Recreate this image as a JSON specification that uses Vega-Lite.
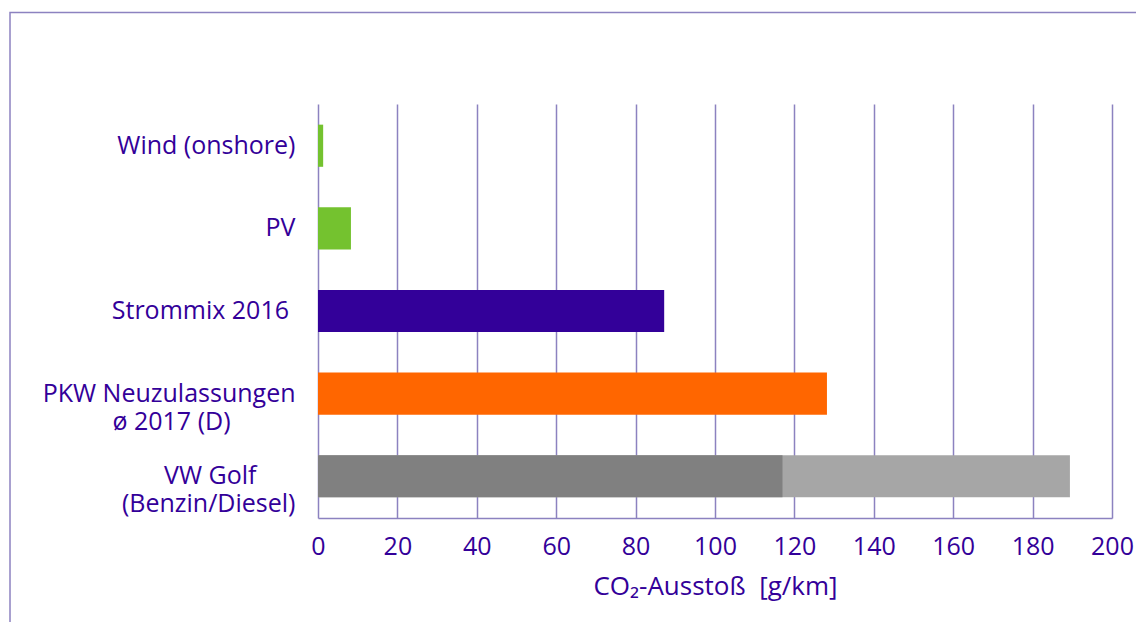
{
  "$schema": "https://vega.github.io/schema/vega-lite/v6.json",
  "width": 794,
  "height": 414,
  "autosize": {"type": "none"},
  "padding": {"left": 318, "top": 104, "right": 24, "bottom": 104},
  "background": "white",
  "config": {"view": {"stroke": null}, "font": "Open Sans"},
  "layer": [
    {
      "data": {
        "values": [
          {"category": "Wind (onshore)", "series": "Wind", "value": 1.3},
          {"category": "PV", "series": "PV", "value": 8.3},
          {"category": "Strommix 2016\u00a0\u200b", "series": "Strommix", "value": 87.2},
          {"category": "PKW Neuzulassungen|ø 2017 (D)\u00a0\u00a0\u00a0\u00a0\u00a0\u00a0\u00a0\u00a0\u00a0\u00a0\u200b", "series": "PKW", "value": 128.2},
          {"category": "VW Golf\u00a0\u00a0\u00a0\u00a0\u00a0\u00a0\u200b|(Benzin/Diesel)", "series": "Golf max", "value": 189.4},
          {"category": "VW Golf\u00a0\u00a0\u00a0\u00a0\u00a0\u00a0\u200b|(Benzin/Diesel)", "series": "Golf min", "value": 117.0}
        ]
      },
      "mark": {"type": "bar"},
      "encoding": {
        "y": {
          "field": "category",
          "type": "nominal",
          "sort": null,
          "scale": {"paddingInner": 0.49, "paddingOuter": 0.25},
          "axis": {
            "title": null,
            "domain": false,
            "ticks": false,
            "grid": false,
            "labelExpr": "split(datum.label, '|')",
            "labelFontSize": 25,
            "labelColor": "#330099",
            "labelPadding": 23,
            "labelLineHeight": 28,
            "labelLimit": 400
          }
        },
        "x": {
          "field": "value",
          "type": "quantitative",
          "stack": null,
          "scale": {"domain": [0, 200], "nice": false, "zero": true},
          "axis": {
            "values": [0, 20, 40, 60, 80, 100, 120, 140, 160, 180, 200],
            "title": "CO₂-Ausstoß\u00a0 [g/km]",
            "titleFontSize": 26,
            "titleFontWeight": "normal",
            "titleColor": "#330099",
            "titlePadding": 14,
            "labelFontSize": 25,
            "labelColor": "#330099",
            "labelPadding": 16,
            "labelFlush": false,
            "labelOverlap": false,
            "ticks": false,
            "domain": true,
            "domainColor": "#8c82c0",
            "domainWidth": 1.5,
            "grid": true,
            "gridColor": "#8c82c0",
            "gridWidth": 1.5,
            "gridOpacity": 1
          }
        },
        "color": {
          "field": "series",
          "type": "nominal",
          "scale": {
            "domain": ["Wind", "PV", "Strommix", "PKW", "Golf max", "Golf min"],
            "range": ["#74c22f", "#74c22f", "#330099", "#ff6600", "#a6a6a6", "#808080"]
          },
          "legend": null
        }
      }
    },
    {
      "data": {"values": [{}]},
      "mark": {"type": "rect", "fill": null, "stroke": "#8c82c0", "strokeWidth": 1.5},
      "encoding": {
        "x": {"datum": -77.58, "type": "quantitative"},
        "x2": {"datum": 215},
        "y": {
          "datum": 1.221,
          "type": "quantitative",
          "scale": {"domain": [0, 1], "nice": false, "zero": false},
          "axis": null
        },
        "y2": {"datum": -0.3}
      }
    }
  ],
  "resolve": {"scale": {"y": "independent"}}
}
